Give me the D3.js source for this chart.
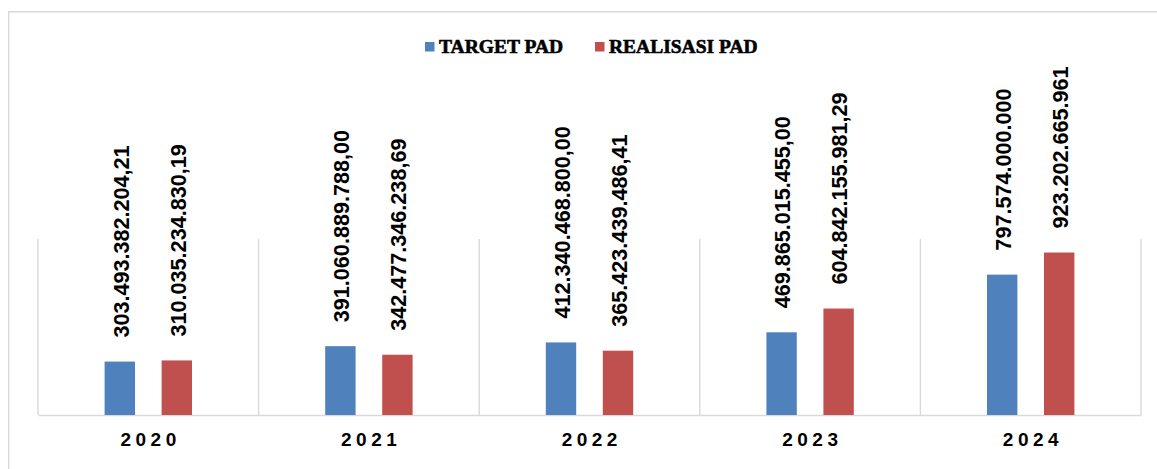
<!DOCTYPE html>
<html>
<head>
<meta charset="utf-8">
<script src="https://cdn.jsdelivr.net/npm/d3@7"></script>
<style>
  body { margin: 0; background: #fff; }
  svg { display: block; }
</style>
</head>
<body>
<div id="chart"><svg></svg></div>
<script>
// data
var years = ["2020", "2021", "2022", "2023", "2024"];
var seriesNames = ["TARGET PAD", "REALISASI PAD"];
var target = [303493382204.21, 391060889788.00, 412340468800.00, 469865015455.00, 797574000000];
var realisasi = [310035234830.19, 342477346238.69, 365423439486.41, 604842155981.29, 923202665961];
var targetLabels = ["303.493.382.204,21", "391.060.889.788,00", "412.340.468.800,00", "469.865.015.455,00", "797.574.000.000"];
var realisasiLabels = ["310.035.234.830,19", "342.477.346.238,69", "365.423.439.486,41", "604.842.155.981,29", "923.202.665.961"];
var yMax = 1000000000000;

var colors = ["#4f81bd", "#c0504d"];

// afmetingen
var width = 1157, height = 469;
var margin = {top: 239, right: 16, bottom: 54, left: 38};
var plotW = width - margin.left - margin.right;
var plotH = height - margin.top - margin.bottom;

var svg = d3.select("#chart svg")
    .attr("width", width)
    .attr("height", height);

// rand om de grafiek
svg.append("path")
    .attr("d", "M8.7," + height + " V11.7 H" + width)
    .attr("fill", "none")
    .attr("stroke", "#d9d9d9")
    .attr("stroke-width", 1.4);

var g = svg.append("g")
    .attr("transform", "translate(" + margin.left + "," + margin.top + ")");

// schalen
var x0 = d3.scaleBand()
    .domain(years)
    .range([0, plotW]);

var x1 = d3.scaleBand()
    .domain(seriesNames)
    .range([0, 87.4])
    .paddingInner(0.467);

var y = d3.scaleLinear()
    .domain([0, yMax])
    .range([plotH, 0]);

// verticale lijnen tussen de jaren
g.selectAll(".divider")
    .data(years.concat(["end"]))
    .enter().append("line")
    .attr("class", "divider")
    .attr("x1", function(d, i) { return i * x0.step(); })
    .attr("x2", function(d, i) { return i * x0.step(); })
    .attr("y1", 0)
    .attr("y2", plotH)
    .attr("stroke", "#d9d9d9")
    .attr("stroke-width", 1.4);

// x as
var xAxis = g.append("g")
    .attr("transform", "translate(0," + plotH + ")")
    .call(d3.axisBottom(x0).tickSize(0).tickPadding(0));
xAxis.select(".domain")
    .attr("stroke", "#d9d9d9")
    .attr("stroke-width", 1.6);
xAxis.selectAll("text")
    .attr("y", 30.7)
    .attr("dy", 0)
    .attr("dx", "0.12em")
    .style("font-family", "'Liberation Sans', Arial, sans-serif")
    .style("font-weight", "bold")
    .style("font-size", "19px")
    .style("letter-spacing", "4.5px")
    .attr("fill", "#000");

// data per jaar
var rows = years.map(function(yr, i) {
  return [
    {key: seriesNames[0], value: target[i], label: targetLabels[i]},
    {key: seriesNames[1], value: realisasi[i], label: realisasiLabels[i]}
  ];
});

var groups = g.selectAll(".bar")
    .data(rows)
    .enter().append("g")
    .attr("class", "bar")
    .attr("transform", function(d, i) {
      return "translate(" + (x0(years[i]) + x0.bandwidth() / 2 - 43.7) + ",0)";
    });

groups.selectAll("rect")
    .data(function(d) { return d; })
    .enter().append("rect")
    .attr("x", function(d) { return x1(d.key); })
    .attr("y", function(d) { return y(d.value); })
    .attr("width", x1.bandwidth())
    .attr("height", function(d) { return plotH - y(d.value); })
    .attr("fill", function(d, i) { return colors[i]; });

// labels boven de staven
groups.selectAll("text")
    .data(function(d) { return d; })
    .enter().append("text")
    .attr("transform", function(d) {
      return "translate(" + (x1(d.key) + x1.bandwidth() / 2 + 1) + "," + (y(d.value) - 24) + ") rotate(-90)";
    })
    .attr("dy", "0.36em")
    .attr("text-anchor", "start")
    .style("font-family", "'Liberation Sans', Arial, sans-serif")
    .style("font-weight", "bold")
    .style("font-size", "21.6px")
    .attr("fill", "#000")
    .text(function(d) { return d.label; });

// legenda
var legendX = [425, 595];
var legend = svg.selectAll(".legend")
    .data(seriesNames)
    .enter().append("g")
    .attr("class", "legend")
    .attr("transform", function(d, i) { return "translate(" + legendX[i] + ",42)"; });

legend.append("rect")
    .attr("width", 9.5)
    .attr("height", 9.5)
    .attr("fill", function(d, i) { return colors[i]; });

legend.append("text")
    .attr("x", 14)
    .attr("y", 10.7)
    .style("font-family", "'Liberation Serif', 'Times New Roman', serif")
    .style("font-weight", "bold")
    .style("font-size", "19.5px")
    .attr("fill", "#000")
    .attr("stroke", "#000")
    .attr("stroke-width", 0.6)
    .text(function(d) { return d; });
</script>
</body>
</html>
